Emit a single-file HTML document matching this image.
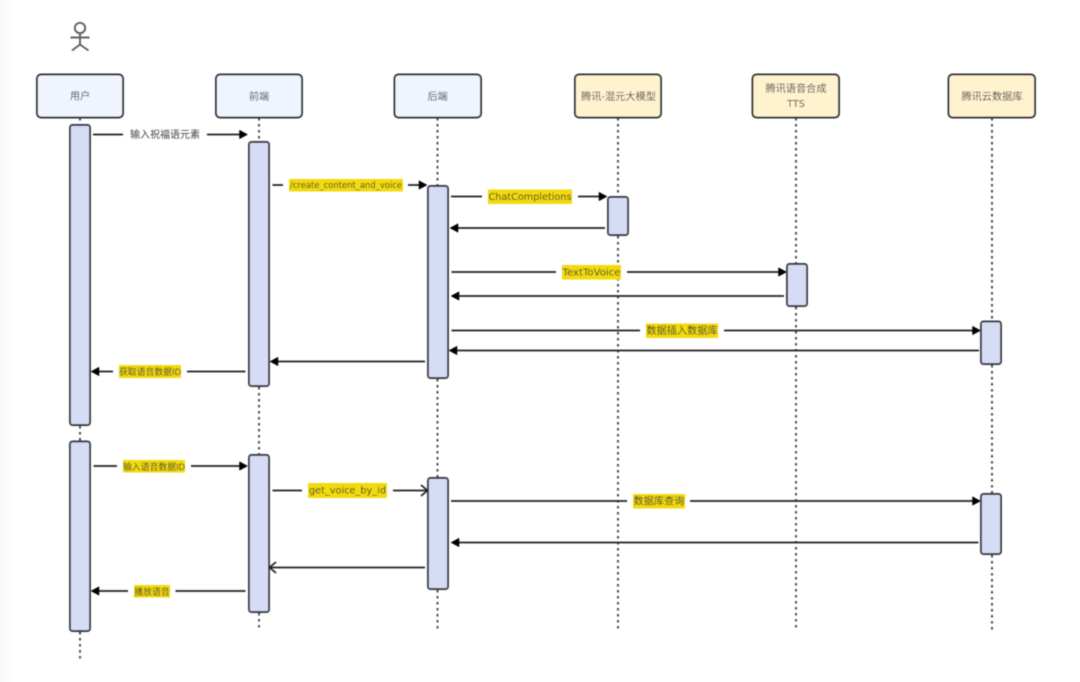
<!DOCTYPE html>
<html lang="zh">
<head>
<meta charset="utf-8">
<title>Sequence diagram</title>
<style>
html,body{margin:0;padding:0;background:#fff;width:1080px;height:682px;overflow:hidden}
svg{display:block;position:absolute;left:0;top:0}
text{font-family:"Liberation Sans","Noto Sans CJK SC",sans-serif;fill:#444;text-anchor:middle;dominant-baseline:central;transform:translateY(0.8px)}
.lat{font-family:"DejaVu Sans",sans-serif;fill:#3a3a2a}
.dk{fill:#3a3a2a}
.box{stroke:#2e3036;stroke-width:1.9}
.u{fill:#eff4fe}.t{fill:#fff2cf}
.act{fill:#d5dcf4;stroke:#383b42;stroke-width:1.9}
.life{stroke:#44474d;stroke-width:1.9;stroke-dasharray:2.5 3.5;fill:none}
.ln{stroke:#222428;stroke-width:1.7;fill:none}
.head{fill:#000;stroke:#000;stroke-width:.5}
.y{fill:#f2da0a}
.lb{fill:#444;font-size:10px}
</style>
</head>
<body>
<svg width="1080" height="682" viewBox="0 0 1080 682" xmlns="http://www.w3.org/2000/svg">
<defs><filter id="b" x="-2%" y="-2%" width="104%" height="104%"><feGaussianBlur stdDeviation="0.4"/></filter>
<linearGradient id="edge" x1="0" x2="1" y1="0" y2="0"><stop offset="0" stop-color="#f8f8f8"/><stop offset="1" stop-color="#ffffff"/></linearGradient></defs>
<rect x="0" y="0" width="16" height="682" fill="url(#edge)"/>
<g filter="url(#b)">
<!-- lifelines -->
<path class="life" d="M80 118V125M80 426V441M80 632V660"/>
<path class="life" d="M259 118V142M259 387V455M259 613V631"/>
<path class="life" d="M437.500 118V186M437.500 379V478M437.500 590V631"/>
<path class="life" d="M618 118V197M618 236V631"/>
<path class="life" d="M796 118V264M796 307V631"/>
<path class="life" d="M992 118V321M992 365V494M992 555V631"/>

<!-- actor -->
<g fill="none" stroke="#5e6168" stroke-width="1.9">
<circle cx="80" cy="28" r="5.200"/>
<path d="M80 33.200V44M70.500 37.500H89.500M72 50.500L80 44.500L88.500 50.500"/>
</g>

<!-- participants -->
<rect class="box u" x="37" y="74.500" width="86" height="43" rx="4"/>
<rect class="box u" x="216" y="74.500" width="86" height="43" rx="4"/>
<rect class="box u" x="394.500" y="74.500" width="86.500" height="43" rx="4"/>
<rect class="box t" x="575" y="74.500" width="86" height="43" rx="4"/>
<rect class="box t" x="752.500" y="74.500" width="86.500" height="43" rx="4"/>
<rect class="box t" x="948.500" y="74.500" width="86.500" height="43" rx="4"/>
<text x="80" y="96" font-size="10.200">用户</text>
<text x="259" y="96.500" font-size="10.200">前端</text>
<text x="437.500" y="96.500" font-size="10.200">后端</text>
<text x="618.500" y="96.500" font-size="10.200" textLength="75">腾讯-混元大模型</text>
<text x="796" y="88.500" font-size="10.200">腾讯语音合成</text>
<text x="796" y="103.500" font-size="9.800" font-family="DejaVu Sans" style="font-family:'DejaVu Sans',sans-serif">TTS</text>
<text x="992" y="96.500" font-size="10.200">腾讯云数据库</text>

<!-- activations -->
<rect class="act" x="70" y="125" width="20" height="300" rx="2.500"/>
<rect class="act" x="70" y="441.500" width="20" height="189.500" rx="2.500"/>
<rect class="act" x="249" y="142" width="20" height="244" rx="2.500"/>
<rect class="act" x="249" y="455" width="20" height="157" rx="2.500"/>
<rect class="act" x="428" y="186" width="20" height="192" rx="2.500"/>
<rect class="act" x="428" y="478" width="20" height="111" rx="2.500"/>
<rect class="act" x="608" y="197" width="20" height="38" rx="2.500"/>
<rect class="act" x="787" y="264" width="20" height="42" rx="2.500"/>
<rect class="act" x="981" y="321.500" width="20" height="42.500" rx="2.500"/>
<rect class="act" x="981" y="494" width="20" height="60" rx="2.500"/>

<!-- messages -->
<path class="ln" d="M93 134.500H123M207 134.500H240"/>
<path class="head" d="M247.500 134.500L239.500 130.200V138.800Z"/>
<text class="lb" x="165" y="134.500">输入祝福语元素</text>

<path class="ln" d="M272.500 185H283M408 185H420"/>
<path class="head" d="M427 185L419 180.700V189.300Z"/>
<rect class="y" x="289" y="179" width="114" height="12.500"/>
<text class="lat" x="346" y="185" font-size="9" textLength="112" lengthAdjust="spacingAndGlyphs">/create_content_and_voice</text>

<path class="ln" d="M451 196.500H482M578 196.500H600"/>
<path class="head" d="M607 196.500L599 192.200V200.800Z"/>
<rect class="y" x="488" y="189.500" width="84" height="14.500"/>
<text class="lat" x="530" y="196.500" font-size="10" textLength="83" lengthAdjust="spacingAndGlyphs">ChatCompletions</text>

<path class="ln" d="M605 228H457"/>
<path class="head" d="M450 228L458 223.700V232.300Z"/>

<path class="ln" d="M451.500 272H556M627 272H779"/>
<path class="head" d="M786.500 272L778.500 267.700V276.300Z"/>
<rect class="y" x="562" y="265" width="59" height="14.500"/>
<text class="lat" x="591.500" y="272" font-size="10" textLength="58" lengthAdjust="spacingAndGlyphs">TextToVoice</text>

<path class="ln" d="M784 296H458"/>
<path class="head" d="M451 296L459 291.700V300.300Z"/>

<path class="ln" d="M451.500 330.500H640M724 330.500H973"/>
<path class="head" d="M980.500 330.500L972.500 326.200V334.800Z"/>
<rect class="y" x="646" y="323.500" width="72" height="14.500"/>
<text class="dk" x="682" y="330.500" font-size="10.200">数据插入数据库</text>

<path class="ln" d="M979 350.500H456"/>
<path class="head" d="M449 350.500L457 346.200V354.800Z"/>

<path class="ln" d="M425 361.500H277"/>
<path class="head" d="M270 361.500L278 357.200V365.800Z"/>

<path class="ln" d="M245.500 371.500H187M113 371.500H98"/>
<path class="head" d="M91 371.500L99 367.200V375.800Z"/>
<rect class="y" x="119" y="365" width="62" height="13"/>
<text class="dk" x="150" y="371" font-size="8.900">获取语音数据ID</text>

<path class="ln" d="M93.500 466H117M191 466H240"/>
<path class="head" d="M247.500 466L239.500 461.700V470.300Z"/>
<rect class="y" x="123" y="460" width="62" height="12.500"/>
<text class="dk" x="154" y="466" font-size="8.900">输入语音数据ID</text>

<path class="ln" d="M272.500 490.500H302M393 490.500H427M421 485L427.500 490.500L421 496"/>
<rect class="y" x="308" y="483" width="79" height="15"/>
<text class="lat" x="347.500" y="490" font-size="10" textLength="77" lengthAdjust="spacingAndGlyphs">get_voice_by_id</text>

<path class="ln" d="M451 501H627M690 501H973"/>
<path class="head" d="M980.500 501L972.500 496.700V505.300Z"/>
<rect class="y" x="633" y="494" width="52" height="14.500"/>
<text class="dk" x="659" y="501" font-size="10.200">数据库查询</text>

<path class="ln" d="M978.500 542.500H458"/>
<path class="head" d="M451 542.500L459 538.200V546.800Z"/>

<path class="ln" d="M425 567.500H270M276 562L269.500 567.500L276 573"/>

<path class="ln" d="M245.500 591H175.500M128 591H98"/>
<path class="head" d="M91 591L99 586.700V595.300Z"/>
<rect class="y" x="134" y="585" width="36" height="12.500"/>
<text class="dk" x="152" y="591" font-size="8.900">播放语音</text>
</g>
</svg>
</body>
</html>
